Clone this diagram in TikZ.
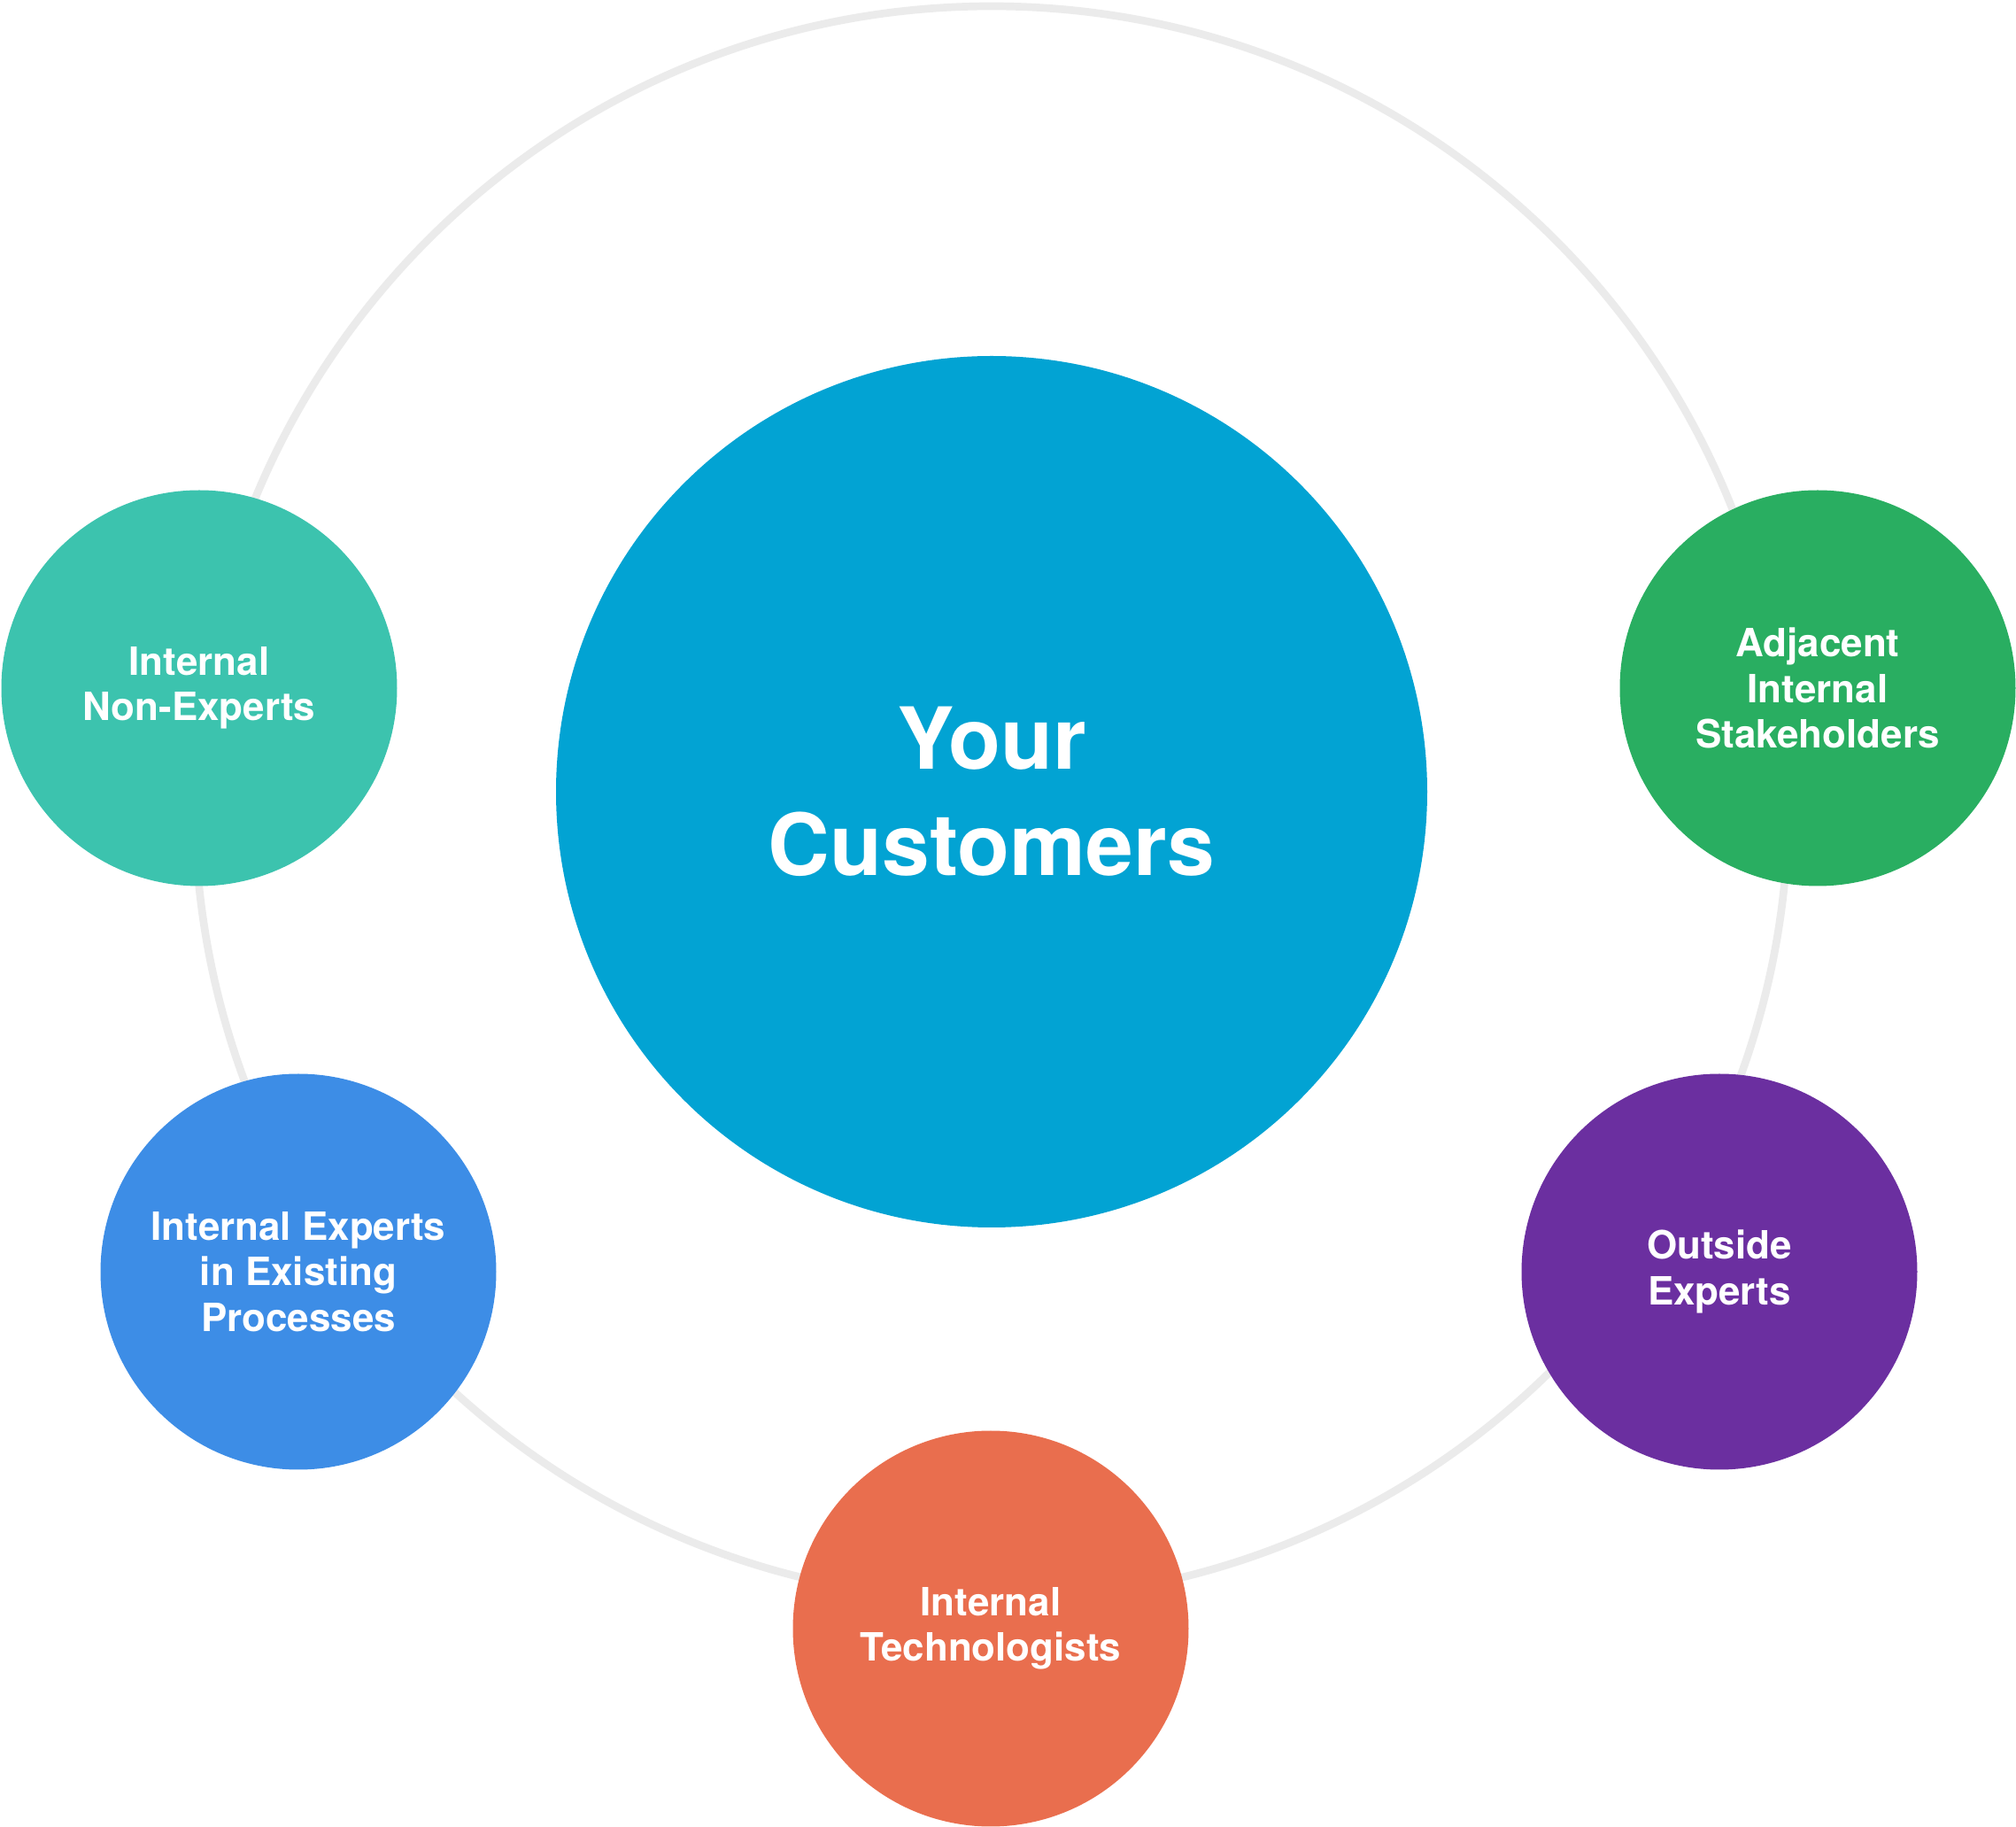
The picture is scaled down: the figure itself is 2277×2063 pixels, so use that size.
\documentclass[tikz,border=0pt]{standalone}
\usepackage{fontspec}
\setmainfont{TeX Gyre Heros}
\usetikzlibrary{positioning}
\definecolor{ringgray}{HTML}{EBEBEB}
\definecolor{hubblue}{HTML}{02A3D3}
\definecolor{teal}{HTML}{3CC3AE}
\definecolor{leafgreen}{HTML}{29AE61}
\definecolor{skyblue}{HTML}{3D8DE6}
\definecolor{plum}{HTML}{6B2FA0}
\definecolor{coral}{HTML}{E96E4E}

\begin{document}
\begin{tikzpicture}[x=0.1mm,y=-0.1mm,
  ring/.style={draw=ringgray,line width=0.87mm},
  hub/.style={circle,fill=hubblue,text=white,minimum size=98.4mm,inner sep=0pt,align=center,font=\fontsize{27.5}{34}\selectfont\bfseries},
  sat/.style={circle,text=white,minimum size=44.7mm,inner sep=0pt,align=center,font=\fontsize{12.5}{14.6}\selectfont\bfseries}
]
\useasboundingbox (0,0) rectangle (2277,2063);
\coordinate (ringc) at (1120,907);
\draw[ring] (ringc) circle[radius=90mm];
\node[hub] (cust) at (1120,894) {Your\\Customers};
\node[sat,fill=teal] (nonexp) at (225,777) {Internal\\Non-Experts};
\node[sat,fill=leafgreen] (adjacent) at (2053,777) {Adjacent\\Internal\\Stakeholders};
\node[sat,fill=skyblue] (intexp) at (337,1436) {Internal Experts\\in Existing\\Processes};
\node[sat,fill=plum] (outside) at (1942,1436) {Outside\\Experts};
\node[sat,fill=coral] (tech) at (1119,1839) {Internal\\Technologists};
\end{tikzpicture}
\end{document}
